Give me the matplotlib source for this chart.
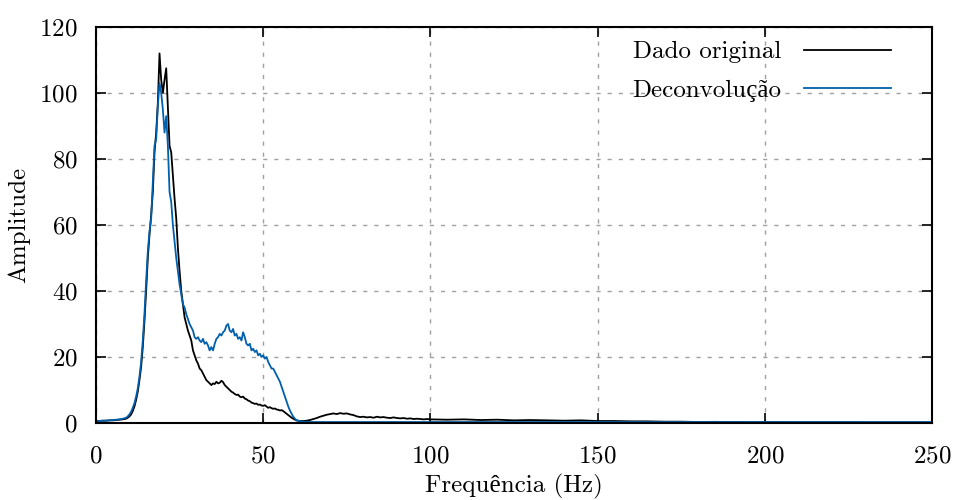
import numpy as np
import matplotlib
matplotlib.use("Agg")
import matplotlib.pyplot as plt

plt.rcParams['font.family'] = ['cmr10', 'Liberation Serif']
plt.rcParams['axes.formatter.use_mathtext'] = True
plt.rcParams['font.size'] = 18

# frequências (Hz)
freq = np.concatenate([
    np.arange(0, 9.5, 1.0),
    np.arange(9.5, 60.25, 0.5),
    np.arange(61, 100.5, 1.0),
    np.arange(105, 250.5, 5.0),
])

# dado original (preto)
orig_a = [0.6, 0.6, 0.7, 0.7, 0.8, 0.8, 0.9, 1.0, 1.1, 1.3]
orig_b = [1.6, 2.0, 2.6, 3.6, 5.0, 7.0, 9.5, 13, 17, 23,
          31, 40, 50, 57, 63, 70, 82, 88, 97, 112,
          104, 100, 104, 107.5, 96, 84, 82, 75, 68, 62,
          53, 46, 40, 36, 32, 30, 28, 26.5, 25, 22,
          20.5, 19, 18, 16.5, 16, 15, 14, 13, 12.5, 12,
          11.5, 12, 11.8, 12.5, 12, 12.2, 12.8, 12.4, 11.5, 11,
          10.5, 10, 9.5, 9.2, 8.8, 8.5, 8.6, 8.0, 7.8, 8.0,
          7.4, 7.2, 6.8, 6.6, 6.2, 6.0, 5.8, 5.9, 5.5, 5.6,
          5.3, 5.2, 5.4, 5.0, 4.6, 4.8, 4.5, 4.3, 4.4, 4.1,
          4.0, 3.8, 3.9, 3.6, 3.2, 2.8, 2.4, 2.0, 1.6, 1.3,
          1.0, 0.8]
orig_c = [0.6, 0.6, 0.7, 0.9, 1.2, 1.5, 1.9, 2.2, 2.5, 2.7,
          2.9, 2.7, 3.0, 2.8, 2.9, 2.6, 2.4, 2.0, 1.8, 1.9,
          1.7, 1.8, 1.6, 1.9, 1.7, 1.8, 1.6, 1.5, 1.7, 1.5,
          1.4, 1.5, 1.3, 1.4, 1.2, 1.3, 1.2, 1.1, 1.2, 1.1]
orig_d = [1.0, 1.1, 0.9, 1.0, 0.8, 0.9, 0.8, 0.7, 0.8, 0.6,
          0.6, 0.5, 0.5, 0.4, 0.4, 0.3, 0.35, 0.3, 0.3, 0.25,
          0.25, 0.2, 0.2, 0.2, 0.2, 0.15, 0.15, 0.15, 0.15, 0.15]
dado_original = orig_a + orig_b + orig_c + orig_d

# deconvolução (azul)
dec_a = [0.6, 0.6, 0.7, 0.7, 0.8, 0.9, 1.0, 1.1, 1.3, 1.6]
dec_b = [2.0, 2.6, 3.4, 4.6, 6.0, 8.0, 10.5, 14, 18.5, 25,
         33, 43, 52, 58, 62, 73, 84, 86, 96, 103,
         100, 95, 88, 93, 84, 70, 67, 60, 55, 50,
         46, 42, 39, 36, 35, 33, 31.5, 30, 29, 28,
         26, 25.5, 26, 25, 24.5, 25.5, 24, 24.5, 23.5, 22,
         23, 22, 24, 25.5, 26, 27, 26.5, 27.5, 28, 29.5,
         30, 28, 27.5, 28.5, 26.5, 27, 25.5, 26, 25, 27.5,
         26, 24, 23.5, 24, 22, 22.5, 21.5, 22, 20.5, 21,
         20, 20.5, 19.5, 20, 18.5, 17.5, 16.5, 16.5, 15.5, 14.5,
         13.5, 12.5, 11, 9.5, 8, 6.5, 5, 3.8, 2.8, 1.9,
         1.3, 0.8]
dec_c = [0.5, 0.4, 0.35, 0.3, 0.3, 0.3, 0.3, 0.3, 0.3, 0.3,
         0.3, 0.3, 0.3, 0.3, 0.3, 0.3, 0.3, 0.3, 0.3, 0.3,
         0.3, 0.3, 0.3, 0.3, 0.3, 0.3, 0.3, 0.3, 0.3, 0.3,
         0.3, 0.3, 0.3, 0.3, 0.3, 0.3, 0.3, 0.3, 0.3, 0.3]
dec_d = [0.3, 0.3, 0.3, 0.3, 0.3, 0.3, 0.3, 0.3, 0.3, 0.3,
         0.3, 0.3, 0.3, 0.3, 0.3, 0.3, 0.3, 0.3, 0.3, 0.3,
         0.3, 0.3, 0.3, 0.3, 0.3, 0.3, 0.3, 0.3, 0.3, 0.3]
deconvolucao = dec_a + dec_b + dec_c + dec_d

xticks = [0, 50, 100, 150, 200, 250]
yticks = [0, 20, 40, 60, 80, 100, 120]

fig = plt.figure(figsize=(9.54, 5.0), dpi=100)
ax = fig.add_axes([0.1006, 0.154, 0.8764, 0.792])

ax.plot(freq, dado_original, color='black', lw=1.3, label='Dado original')
ax.plot(freq, deconvolucao, color='#0060ad', lw=1.3, label='Deconvolução')

ax.set_xlim(0, 250)
ax.set_ylim(0, 120)
ax.set_xticks(xticks)
ax.set_yticks(yticks)
ax.grid(True, color='#a0a0a0', lw=1.0, linestyle=(0, (3, 5)))
ax.tick_params(direction='in', length=7, width=1.2, top=True, right=True)
ax.tick_params(axis='y', pad=13)
ax.tick_params(axis='x', pad=16)
for s in ax.spines.values():
    s.set_linewidth(1.5)

ax.set_xlabel('Frequência (Hz)', labelpad=5)
ax.set_ylabel('Amplitude', labelpad=7)

ax.legend(loc='upper right', bbox_to_anchor=(0.978, 1.022), frameon=False,
          markerfirst=False, handlelength=3.5, handletextpad=0.9,
          labelspacing=0.65)

plt.savefig("out.png", dpi=100)
